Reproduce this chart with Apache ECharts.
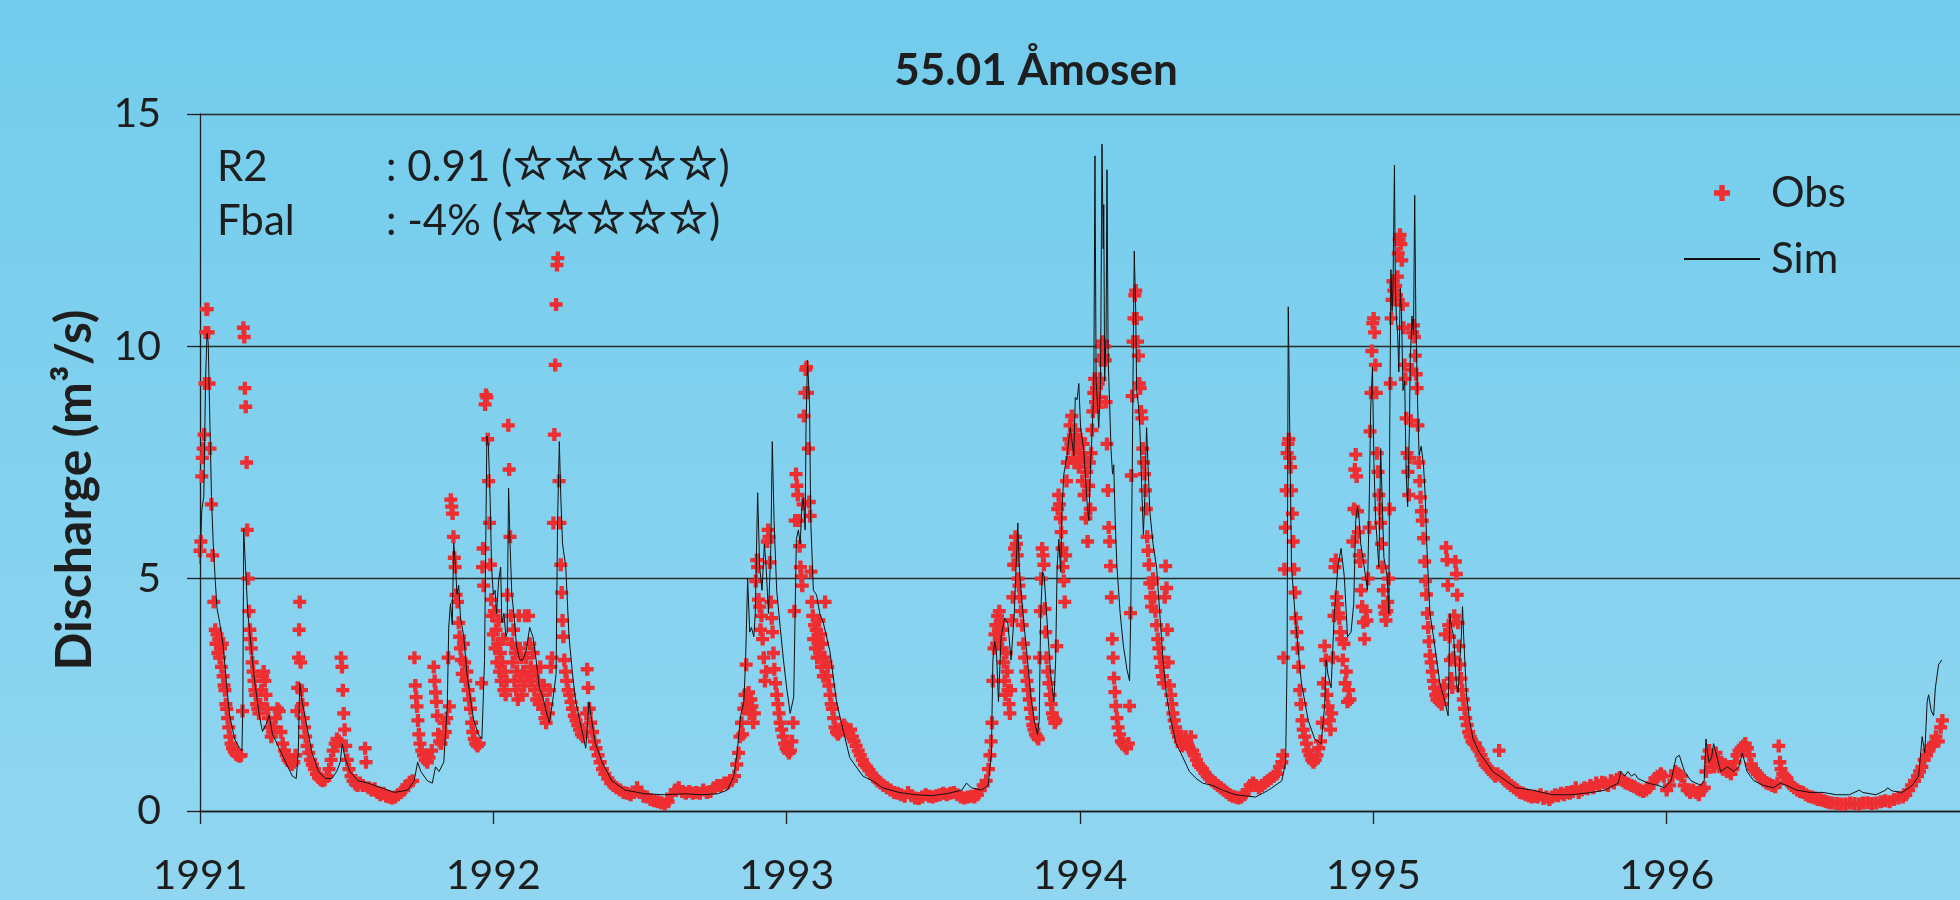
<!DOCTYPE html>
<html>
<head>
<meta charset="utf-8">
<title>55.01 Åmosen</title>
<script src="https://cdn.jsdelivr.net/npm/echarts@6/dist/echarts.min.js"></script>
<style>
  html, body { margin: 0; padding: 0; }
  #chart { width: 1960px; height: 900px; }
</style>
</head>
<body>
<div id="chart"></div>
<script>
const chartTitle = "55.01 Åmosen";
const yName = "Discharge (m³/s)";
const yearTicks = [1991, 1992, 1993, 1994, 1995, 1996];
const dischargeTicks = [0, 5, 10, 15];
const seriesNames = ["Obs", "Sim"];
const statLabels = ["R2", "Fbal"];
const statValues = [": 0.91 (", ": -4% ("];
const statStars = ["☆☆☆☆☆", "☆☆☆☆☆"];

const obs = [
  [1991.000,5.6],[1991.003,5.8],[1991.006,7.2],[1991.008,7.6],[1991.011,7.8],[1991.014,8.1],[1991.017,9.2],[1991.019,10.3],[1991.022,10.8],[1991.025,10.8],[1991.028,10.3],[1991.031,9.2],[1991.034,7.8],[1991.039,6.6],[1991.043,5.5],[1991.047,4.5],
  [1991.052,3.9],[1991.055,3.6],[1991.058,3.8],[1991.061,3.4],[1991.064,3.7],[1991.067,3.3],[1991.070,3.5],[1991.073,3.1],[1991.076,3.6],[1991.079,2.9],[1991.082,2.7],[1991.085,2.6],[1991.088,2.3],[1991.091,2.2],[1991.094,2.0],[1991.098,1.8],[1991.102,1.6],[1991.106,1.45],[1991.111,1.35],[1991.117,1.28],[1991.123,1.22],[1991.129,1.2],[1991.135,1.18],[1991.140,1.2],[1991.145,2.15],
  [1991.148,10.4],[1991.151,10.2],[1991.153,9.1],[1991.156,8.7],[1991.159,7.5],[1991.161,6.05],[1991.164,5.0],[1991.167,4.3],[1991.170,3.9],[1991.172,3.7],[1991.175,3.5],[1991.178,3.2],[1991.181,3.0],[1991.184,2.8],[1991.187,2.6],[1991.190,2.5],[1991.193,2.3],[1991.197,2.2],[1991.201,2.1],[1991.205,2.3],[1991.209,2.6],[1991.213,2.9],[1991.217,3.0],[1991.221,2.8],[1991.225,2.5],[1991.229,2.2],[1991.233,2.0],[1991.238,1.8],[1991.243,1.6],[1991.248,1.7],[1991.253,1.8],[1991.258,2.0],[1991.264,2.2],[1991.270,2.15],[1991.276,1.7],[1991.282,1.45],[1991.288,1.3],[1991.294,1.2],[1991.300,1.1],[1991.307,1.05],[1991.313,1.0],[1991.320,1.05],[1991.326,1.2],
  [1991.330,2.15],[1991.333,2.65],[1991.336,3.3],[1991.338,3.9],[1991.340,4.5],[1991.343,3.2],[1991.346,2.6],[1991.349,2.3],[1991.352,2.0],[1991.356,1.8],[1991.360,1.6],[1991.365,1.4],[1991.371,1.25],[1991.377,1.1],[1991.383,1.0],[1991.390,0.9],[1991.397,0.8],[1991.404,0.72],[1991.411,0.68],[1991.418,0.65],[1991.425,0.67],[1991.432,0.75],[1991.440,0.9],[1991.447,1.1],[1991.454,1.3],[1991.461,1.45],[1991.467,1.55],[1991.473,1.5],[1991.481,3.3],[1991.484,3.1],[1991.487,2.6],[1991.490,2.1],[1991.493,1.75],[1991.497,1.4],[1991.502,1.1],[1991.508,0.9],[1991.515,0.75],[1991.522,0.65],[1991.530,0.58],[1991.537,0.55],[1991.545,0.6],[1991.555,0.55],[1991.563,1.35],[1991.566,1.05],[1991.575,0.5],[1991.585,0.45],[1991.595,0.48],[1991.605,0.4],[1991.615,0.35],[1991.625,0.38],[1991.635,0.32],[1991.645,0.3],[1991.655,0.28],[1991.665,0.3],[1991.675,0.35],[1991.685,0.4],[1991.695,0.45],[1991.705,0.55],[1991.715,0.62],[1991.725,0.65],
  [1991.731,3.3],[1991.734,2.7],[1991.737,2.45],[1991.740,2.25],[1991.743,1.95],[1991.746,1.65],[1991.750,1.45],[1991.756,1.3],[1991.762,1.2],[1991.768,1.1],[1991.775,1.05],[1991.781,1.15],[1991.790,1.3],[1991.797,3.1],[1991.800,2.8],[1991.803,2.55],[1991.806,2.35],[1991.809,2.05],[1991.812,1.65],[1991.817,1.5],[1991.822,1.45],[1991.827,1.6],[1991.832,1.9],[1991.836,1.7],[1991.841,2.0],[1991.846,3.3],[1991.850,2.25],[1991.855,6.7],[1991.858,6.55],[1991.861,6.4],[1991.864,5.9],[1991.867,5.45],[1991.870,5.25],[1991.873,4.65],[1991.878,4.5],[1991.882,4.05],[1991.885,3.75],[1991.888,3.5],[1991.891,3.25],[1991.894,2.95],[1991.898,3.6],[1991.902,3.2],[1991.906,2.8],[1991.910,3.0],[1991.914,2.6],[1991.918,2.4],[1991.922,2.2],[1991.926,1.9],[1991.930,1.7],[1991.935,1.55],[1991.940,1.45],[1991.946,1.4],[1991.952,1.45],[1991.960,2.75],[1991.963,5.25],[1991.965,5.65],[1991.967,4.85],[1991.972,8.75],[1991.975,8.95],[1991.978,8.9],[1991.981,8.0],[1991.984,7.1],[1991.987,6.2],[1991.990,5.3],[1991.993,4.55],[1991.996,4.2],
  [1992.000,3.8],[1992.003,4.3],[1992.006,3.5],[1992.009,3.9],[1992.012,3.2],[1992.015,3.6],[1992.018,4.1],[1992.021,3.0],[1992.024,3.4],[1992.027,2.8],[1992.030,3.2],[1992.033,3.7],[1992.036,2.6],[1992.039,3.0],[1992.042,2.5],[1992.045,2.8],[1992.048,4.65],[1992.051,8.3],[1992.054,7.35],[1992.057,5.9],[1992.060,4.2],[1992.063,3.6],[1992.066,3.2],[1992.069,3.9],[1992.072,2.8],[1992.075,3.4],[1992.078,2.6],[1992.081,3.0],[1992.084,2.4],[1992.087,4.2],[1992.090,3.5],[1992.093,2.9],[1992.096,3.3],[1992.099,2.5],[1992.102,3.0],[1992.105,2.7],[1992.108,4.2],[1992.112,3.3],[1992.116,2.9],[1992.120,4.2],[1992.124,3.6],[1992.128,3.1],[1992.132,2.8],[1992.136,3.4],[1992.140,2.6],[1992.144,3.0],[1992.148,2.4],[1992.152,2.8],[1992.156,2.3],[1992.160,3.1],[1992.164,2.5],[1992.168,2.2],[1992.172,2.7],[1992.176,2.0],[1992.180,1.9],[1992.184,2.3],[1992.188,2.1],[1992.192,2.6],[1992.196,3.1],[1992.200,3.3],
  [1992.205,6.2],[1992.208,8.1],[1992.211,9.6],[1992.214,10.9],[1992.217,11.75],[1992.220,11.9],[1992.224,7.1],[1992.227,6.2],[1992.230,5.3],[1992.233,4.7],[1992.236,4.1],[1992.239,3.75],[1992.242,3.25],[1992.246,3.0],[1992.250,2.8],[1992.255,2.6],[1992.260,2.5],[1992.265,2.35],[1992.270,2.2],[1992.276,2.05],[1992.282,1.95],[1992.288,1.85],[1992.294,1.75],[1992.300,1.65],[1992.306,1.6],[1992.312,1.7],[1992.317,2.1],[1992.320,3.05],[1992.323,2.65],[1992.327,2.2],[1992.332,1.9],[1992.338,1.7],[1992.344,1.5],[1992.350,1.35],[1992.357,1.2],[1992.364,1.05],[1992.372,0.9],[1992.380,0.8],[1992.390,0.7],[1992.400,0.6],[1992.410,0.55],[1992.420,0.5],[1992.432,0.45],[1992.444,0.4],[1992.456,0.38],[1992.468,0.35],[1992.480,0.4],[1992.490,0.5],[1992.500,0.4],[1992.512,0.32],[1992.524,0.3],[1992.536,0.25],[1992.548,0.22],[1992.560,0.2],[1992.572,0.18],[1992.584,0.15],[1992.596,0.2],[1992.608,0.35],[1992.620,0.45],[1992.632,0.5],[1992.644,0.42],[1992.656,0.38],[1992.668,0.42],[1992.680,0.38],[1992.692,0.4],[1992.704,0.38],[1992.716,0.45],[1992.728,0.4],[1992.740,0.42],
  [1992.752,0.5],[1992.764,0.55],[1992.776,0.55],[1992.788,0.6],[1992.800,0.6],[1992.812,0.65],[1992.822,0.75],[1992.830,1.0],[1992.836,1.25],[1992.841,1.6],[1992.846,1.9],[1992.850,1.65],[1992.854,2.2],[1992.858,2.5],[1992.862,3.15],[1992.866,2.3],[1992.870,2.55],[1992.874,2.1],[1992.878,2.4],[1992.882,2.25],[1992.886,1.9],[1992.890,2.1],[1992.895,4.95],[1992.898,5.4],[1992.901,5.25],[1992.904,4.55],[1992.908,4.4],[1992.911,3.9],[1992.914,4.2],[1992.918,3.7],[1992.922,3.3],[1992.926,2.8],[1992.930,3.0],[1992.934,5.8],[1992.937,6.05],[1992.940,5.9],[1992.943,5.35],[1992.946,4.5],[1992.949,4.15],[1992.952,3.85],[1992.955,3.4],[1992.958,3.05],[1992.962,2.75],[1992.966,2.5],[1992.970,2.3],[1992.974,2.1],[1992.978,1.9],[1992.983,1.75],[1992.988,1.6],[1992.993,1.45],[1992.998,1.35],
  [1993.003,1.3],[1993.008,1.25],[1993.013,1.3],[1993.018,1.5],[1993.022,1.9],[1993.026,4.3],[1993.029,6.25],[1993.032,7.25],[1993.035,7.0],[1993.038,6.8],[1993.041,6.25],[1993.044,5.7],[1993.047,5.25],[1993.050,5.05],[1993.053,4.85],[1993.056,6.6],[1993.059,8.5],[1993.062,9.0],[1993.065,9.5],[1993.068,9.55],[1993.071,9.0],[1993.074,7.8],[1993.077,6.65],[1993.080,6.35],[1993.083,5.15],[1993.086,4.5],[1993.089,4.2],[1993.092,3.7],[1993.095,4.0],[1993.098,3.5],[1993.101,3.9],[1993.104,3.3],[1993.107,3.7],[1993.110,4.1],[1993.113,3.4],[1993.116,3.8],[1993.119,3.1],[1993.122,3.6],[1993.125,2.9],[1993.128,3.3],[1993.131,4.5],[1993.134,3.2],[1993.137,2.9],[1993.140,3.1],[1993.144,2.7],[1993.148,2.5],[1993.152,2.3],[1993.156,2.2],[1993.160,2.0],[1993.165,1.8],[1993.170,1.7],[1993.175,1.65],[1993.180,1.7],[1993.185,1.75],[1993.190,1.8],[1993.195,1.85],[1993.200,1.8],[1993.206,1.7],[1993.212,1.65],[1993.218,1.75],[1993.224,1.6],[1993.230,1.5],[1993.237,1.4],[1993.244,1.3],[1993.251,1.2],[1993.258,1.1],[1993.265,1.0],[1993.273,0.95],[1993.281,0.88],[1993.290,0.8],[1993.300,0.72],[1993.310,0.65],[1993.320,0.6],[1993.330,0.55],[1993.342,0.5],[1993.354,0.45],[1993.366,0.4],[1993.378,0.38],[1993.390,0.35],[1993.402,0.32],[1993.414,0.4],[1993.426,0.33],[1993.438,0.28],[1993.450,0.27],[1993.462,0.3],[1993.474,0.35],[1993.486,0.32],[1993.498,0.3],[1993.510,0.33],[1993.522,0.35],[1993.534,0.38],[1993.546,0.35],[1993.558,0.38],[1993.570,0.4],[1993.582,0.35],[1993.594,0.3],[1993.606,0.28],[1993.618,0.3],[1993.630,0.32],[1993.640,0.3],[1993.650,0.35],[1993.660,0.45],[1993.670,0.55],[1993.680,0.65],[1993.688,0.9],[1993.693,1.2],[1993.697,1.5],[1993.700,1.9],[1993.703,2.8],
  [1993.707,3.5],[1993.710,3.8],[1993.713,4.0],[1993.716,3.6],[1993.719,4.2],[1993.722,3.9],[1993.725,4.3],[1993.728,3.7],[1993.731,4.1],[1993.734,3.5],[1993.737,3.9],[1993.740,3.2],[1993.743,2.8],[1993.746,2.5],[1993.749,3.4],[1993.752,3.0],[1993.755,2.6],[1993.758,2.3],[1993.761,2.1],[1993.764,2.6],[1993.768,4.1],[1993.771,4.6],[1993.774,5.3],[1993.777,5.65],[1993.780,5.9],[1993.783,5.75],[1993.786,5.5],[1993.789,5.0],[1993.792,4.85],[1993.795,4.6],[1993.799,4.3],[1993.803,4.0],[1993.807,3.6],[1993.811,3.3],[1993.815,3.0],[1993.819,2.8],[1993.823,2.6],[1993.827,2.4],[1993.831,2.2],[1993.835,2.0],[1993.839,1.85],[1993.843,1.75],[1993.848,1.65],[1993.853,1.6],[1993.858,1.55],[1993.862,3.3],[1993.865,4.3],[1993.868,5.0],[1993.871,5.65],[1993.874,5.5],[1993.877,5.3],[1993.880,4.35],[1993.883,3.85],[1993.886,3.3],[1993.890,3.0],[1993.894,2.75],[1993.898,2.5],[1993.902,2.3],[1993.906,2.1],[1993.910,2.0],[1993.914,1.9],[1993.918,1.95],[1993.921,3.55],[1993.924,6.5],[1993.927,6.8],[1993.930,6.6],[1993.933,6.3],[1993.936,6.0],[1993.939,5.65],[1993.942,5.25],[1993.945,4.95],[1993.948,4.5],[1993.951,5.5],[1993.954,7.1],[1993.957,7.5],[1993.960,7.8],[1993.963,8.0],[1993.966,8.3],[1993.969,7.9],[1993.972,8.5],[1993.975,8.0],[1993.978,7.6],[1993.981,7.8],[1993.984,8.2],[1993.987,7.5],[1993.990,8.0],[1993.993,7.9],[1993.996,7.4],
  [1993.999,7.7],[1994.002,8.0],[1994.005,7.6],[1994.008,7.1],[1994.011,7.9],[1994.014,6.8],[1994.017,7.6],[1994.020,6.3],[1994.023,7.3],[1994.026,5.8],[1994.029,7.0],[1994.032,7.5],[1994.035,6.5],[1994.038,7.7],[1994.041,8.2],[1994.044,8.6],[1994.047,9.0],[1994.050,9.3],[1994.053,8.8],[1994.056,9.1],[1994.059,8.7],[1994.062,9.2],[1994.065,8.9],[1994.068,9.3],[1994.071,9.7],[1994.074,10.0],[1994.077,10.1],[1994.080,9.8],[1994.083,10.0],[1994.086,9.7],[1994.089,8.8],[1994.092,7.9],[1994.095,6.9],[1994.098,6.1],[1994.101,5.8],[1994.104,5.27],[1994.107,4.6],[1994.110,3.7],[1994.113,3.3],[1994.116,2.86],[1994.119,2.56],[1994.122,2.26],[1994.126,2.0],[1994.130,1.8],[1994.135,1.65],[1994.141,1.5],[1994.147,1.45],[1994.153,1.4],[1994.159,1.35],[1994.165,1.45],[1994.169,2.26],[1994.172,4.26],[1994.175,7.22],[1994.178,8.93],[1994.181,10.1],[1994.184,10.6],[1994.187,11.1],[1994.190,11.2],[1994.193,10.6],[1994.196,10.1],[1994.199,9.8],[1994.202,9.2],[1994.205,9.1],[1994.208,8.6],[1994.211,8.45],[1994.214,7.8],[1994.217,7.5],[1994.220,7.25],[1994.223,6.9],[1994.226,6.5],[1994.229,5.9],[1994.232,5.6],[1994.235,5.3],[1994.238,4.9],[1994.241,4.6],[1994.244,4.4],[1994.247,4.9],
  [1994.249,5.0],[1994.253,4.6],[1994.257,4.3],[1994.261,4.0],[1994.265,3.7],[1994.269,3.5],[1994.273,3.3],[1994.277,3.1],[1994.281,2.9],[1994.285,2.75],[1994.289,4.6],[1994.292,5.27],[1994.295,4.8],[1994.298,3.9],[1994.301,3.2],[1994.305,2.7],[1994.309,2.5],[1994.313,2.3],[1994.317,2.1],[1994.321,1.95],[1994.326,1.8],[1994.331,1.7],[1994.336,1.6],[1994.342,1.5],[1994.348,1.4],[1994.354,1.5],[1994.360,1.6],[1994.366,1.45],[1994.372,1.35],[1994.378,1.6],[1994.384,1.3],[1994.390,1.2],[1994.397,1.1],[1994.404,1.0],[1994.411,0.95],[1994.418,0.9],[1994.426,0.82],[1994.434,0.75],[1994.442,0.7],[1994.450,0.65],[1994.460,0.6],[1994.470,0.55],[1994.480,0.5],[1994.490,0.45],[1994.500,0.4],[1994.510,0.35],[1994.520,0.32],[1994.530,0.3],[1994.540,0.28],[1994.550,0.3],[1994.560,0.35],[1994.570,0.45],[1994.580,0.55],[1994.590,0.6],[1994.600,0.55],[1994.610,0.5],[1994.620,0.55],[1994.630,0.6],[1994.640,0.65],[1994.650,0.7],[1994.660,0.75],[1994.670,0.8],[1994.680,0.95],
  [1994.688,1.05],[1994.691,1.2],[1994.694,3.3],[1994.697,5.2],[1994.700,6.1],[1994.703,6.9],[1994.706,7.7],[1994.709,7.9],[1994.712,8.0],[1994.715,7.6],[1994.718,7.4],[1994.721,6.9],[1994.724,6.4],[1994.727,5.8],[1994.730,5.2],[1994.733,4.7],[1994.736,4.15],[1994.739,3.85],[1994.742,3.5],[1994.745,3.1],[1994.749,2.6],[1994.753,2.3],[1994.757,1.95],[1994.761,1.75],[1994.766,1.6],[1994.772,1.45],[1994.778,1.3],[1994.784,1.2],[1994.790,1.1],[1994.796,1.05],[1994.802,1.1],[1994.808,1.2],[1994.814,1.35],[1994.820,1.5],[1994.826,1.9],[1994.830,2.75],[1994.834,3.55],[1994.838,3.25],[1994.842,2.5],[1994.846,2.25],[1994.850,1.95],[1994.854,1.75],[1994.858,2.1],[1994.862,3.3],[1994.866,4.2],[1994.869,5.25],[1994.872,5.4],[1994.875,4.6],[1994.878,4.45],[1994.881,4.25],[1994.884,4.15],[1994.888,3.85],[1994.892,3.7],[1994.896,3.25],[1994.900,3.6],[1994.904,2.75],[1994.908,3.0],[1994.912,2.35],[1994.916,2.6],[1994.920,2.4],[1994.930,5.8],[1994.934,6.5],[1994.937,7.35],[1994.940,7.67],[1994.943,7.2],[1994.946,6.45],[1994.949,6.0],[1994.952,5.5],[1994.955,5.37],[1994.958,4.75],[1994.962,4.4],[1994.966,4.06],[1994.970,3.7],[1994.974,4.3],[1994.978,4.1],[1994.982,5.0],[1994.986,6.1],[1994.989,8.17],[1994.992,9.0],[1994.995,9.9],[1994.998,10.5],
  [1995.001,10.6],[1995.004,10.3],[1995.007,9.6],[1995.010,9.0],[1995.013,7.7],[1995.016,7.3],[1995.019,6.8],[1995.022,6.5],[1995.025,6.2],[1995.028,5.75],[1995.031,5.25],[1995.034,4.75],[1995.037,4.4],[1995.040,4.25],[1995.043,4.1],[1995.046,4.3],[1995.049,4.5],[1995.052,5.0],[1995.055,6.5],[1995.058,9.2],[1995.061,10.6],[1995.064,11.0],[1995.067,11.4],[1995.070,11.2],[1995.073,11.0],[1995.076,11.3],[1995.079,11.1],[1995.082,11.5],[1995.085,12.0],[1995.088,12.3],[1995.091,12.4],[1995.094,12.2],[1995.097,11.85],[1995.100,10.9],[1995.103,10.4],[1995.106,9.6],[1995.109,9.3],[1995.112,8.45],[1995.115,7.7],[1995.118,7.3],[1995.121,6.8],[1995.124,7.6],[1995.128,8.4],[1995.131,9.5],[1995.134,10.3],[1995.137,10.45],[1995.140,10.2],[1995.143,9.8],[1995.146,9.4],[1995.149,9.1],[1995.152,8.3],[1995.155,7.5],[1995.158,7.1],[1995.161,6.75],[1995.164,6.45],[1995.167,6.25],[1995.171,5.87],[1995.175,5.37],[1995.178,4.95],[1995.181,4.66],[1995.184,4.25],[1995.187,3.95],[1995.190,3.65],[1995.193,3.35],[1995.197,3.2],[1995.201,3.0],[1995.205,2.8],[1995.209,2.65],[1995.213,2.5],[1995.217,2.4],[1995.221,2.55],[1995.225,2.35],[1995.229,2.45],[1995.233,2.3],[1995.237,2.5],
  [1995.241,2.7],[1995.245,3.8],[1995.248,5.67],[1995.251,5.4],[1995.254,4.86],[1995.257,4.0],[1995.260,3.75],[1995.263,3.25],[1995.266,2.85],[1995.269,2.66],[1995.273,3.3],[1995.276,4.2],[1995.280,5.37],[1995.283,5.1],[1995.286,4.65],[1995.289,4.05],[1995.292,3.55],[1995.295,3.15],[1995.299,2.85],[1995.303,2.6],[1995.307,2.4],[1995.311,2.2],[1995.315,2.0],[1995.320,1.85],[1995.325,1.7],[1995.330,1.6],[1995.336,1.5],[1995.342,1.45],[1995.348,1.45],[1995.354,1.35],[1995.360,1.3],[1995.367,1.2],[1995.374,1.1],[1995.381,1.0],[1995.388,0.95],[1995.395,0.9],[1995.402,0.85],[1995.409,0.8],[1995.416,0.75],[1995.423,0.8],[1995.429,1.3],[1995.436,0.75],[1995.443,0.7],[1995.450,0.65],[1995.460,0.6],[1995.470,0.55],[1995.480,0.5],[1995.490,0.45],[1995.500,0.4],[1995.510,0.38],[1995.520,0.35],[1995.530,0.33],[1995.540,0.3],[1995.550,0.32],[1995.560,0.3],[1995.570,0.35],[1995.580,0.27],[1995.590,0.3],[1995.600,0.25],[1995.610,0.3],[1995.620,0.35],[1995.630,0.33],[1995.640,0.38],[1995.650,0.35],[1995.660,0.4],[1995.670,0.38],[1995.680,0.42],[1995.690,0.5],[1995.700,0.4],[1995.710,0.45],[1995.720,0.5],[1995.730,0.48],[1995.740,0.55],[1995.750,0.5],[1995.760,0.6],[1995.770,0.55],[1995.780,0.62],[1995.790,0.6],[1995.800,0.55],[1995.810,0.65],[1995.820,0.6],[1995.830,0.68],[1995.840,0.72],[1995.850,0.65],[1995.860,0.6],[1995.870,0.58],[1995.880,0.55],[1995.890,0.52],[1995.900,0.48],[1995.910,0.45],[1995.920,0.42],[1995.930,0.45],[1995.940,0.5],[1995.950,0.6],[1995.960,0.7],[1995.970,0.75],[1995.980,0.8],[1995.990,0.75],
  [1996.000,0.45],[1996.010,0.55],[1996.020,0.75],[1996.030,0.85],[1996.040,0.8],[1996.050,0.75],[1996.060,0.55],[1996.070,0.45],[1996.080,0.4],[1996.090,0.45],[1996.100,0.4],[1996.110,0.35],[1996.120,0.45],[1996.128,0.5],[1996.134,0.85],[1996.139,1.15],[1996.145,1.3],[1996.150,1.05],[1996.156,1.2],[1996.162,0.95],[1996.168,1.25],[1996.174,1.1],[1996.180,0.95],[1996.186,1.05],[1996.192,0.9],[1996.198,1.0],[1996.205,0.85],[1996.212,0.95],[1996.219,0.8],[1996.226,0.9],[1996.233,1.05],[1996.240,1.2],[1996.247,1.3],[1996.254,1.35],[1996.261,1.4],[1996.268,1.45],[1996.275,1.35],[1996.282,1.2],[1996.289,1.0],[1996.296,0.9],[1996.303,0.85],[1996.310,0.8],[1996.317,0.75],[1996.324,0.7],[1996.331,0.65],[1996.340,0.6],[1996.350,0.58],[1996.360,0.55],[1996.370,0.52],[1996.378,0.6],[1996.382,1.4],[1996.386,1.05],[1996.390,0.9],[1996.396,0.8],[1996.403,0.75],[1996.410,0.7],[1996.418,0.6],[1996.426,0.55],[1996.435,0.5],[1996.445,0.45],[1996.455,0.42],[1996.465,0.4],[1996.475,0.35],[1996.485,0.32],[1996.495,0.3],[1996.505,0.28],[1996.515,0.25],[1996.525,0.24],[1996.535,0.22],[1996.545,0.2],[1996.555,0.18],[1996.565,0.17],[1996.580,0.16],[1996.595,0.15],[1996.610,0.15],[1996.625,0.17],[1996.640,0.16],[1996.655,0.15],[1996.670,0.17],[1996.685,0.18],[1996.700,0.16],[1996.715,0.17],[1996.730,0.2],[1996.745,0.22],[1996.760,0.2],[1996.775,0.25],[1996.790,0.28],[1996.805,0.3],[1996.815,0.35],[1996.825,0.45],[1996.835,0.55],[1996.845,0.65],[1996.855,0.75],[1996.862,0.85],[1996.870,0.95],[1996.878,1.1],[1996.886,1.2],[1996.894,1.3],[1996.902,1.4],[1996.910,1.45],[1996.918,1.6],[1996.926,1.5],[1996.934,1.8],[1996.940,1.95]
];

// simulated discharge, [decimal year, m3/s]
const sim = [
  [1991.000,5.32],[1991.006,6.47],[1991.013,6.77],[1991.019,9.28],[1991.024,10.28],[1991.028,10.08],[1991.034,8.27],[1991.039,6.77],[1991.045,5.77],[1991.052,4.96],[1991.058,4.36],[1991.067,4.06],[1991.079,3.56],[1991.090,2.76],[1991.101,2.06],[1991.118,1.55],[1991.135,1.35],[1991.143,1.30],[1991.146,2.26],[1991.149,6.07],[1991.155,5.27],[1991.163,4.26],[1991.174,3.56],[1991.185,2.86],[1991.202,2.06],[1991.213,1.71],[1991.225,1.86],[1991.236,2.06],[1991.247,1.65],[1991.270,1.35],[1991.292,1.05],[1991.315,0.75],[1991.328,0.70],[1991.335,1.25],[1991.340,2.76],[1991.348,2.36],[1991.360,1.96],[1991.382,1.25],[1991.404,0.85],[1991.427,0.70],[1991.449,0.70],[1991.466,0.85],[1991.478,1.05],[1991.485,1.45],[1991.494,1.15],[1991.511,0.85],[1991.539,0.65],[1991.573,0.60],[1991.618,0.50],[1991.663,0.40],[1991.708,0.45],[1991.730,0.65],[1991.742,1.05],[1991.753,0.85],[1991.775,0.65],[1991.792,0.60],[1991.803,0.95],[1991.815,0.85],[1991.831,1.05],[1991.843,2.26],[1991.848,3.96],[1991.854,4.46],[1991.860,4.01],[1991.865,5.77],[1991.871,5.27],[1991.876,4.66],[1991.882,4.86],[1991.888,4.16],[1991.899,3.76],[1991.910,2.96],[1991.921,2.46],[1991.933,1.96],[1991.949,1.65],[1991.961,1.55],[1991.970,3.26],[1991.978,8.07],[1991.983,7.87],[1991.989,6.75],[1991.994,5.25],
  [1992.000,4.65],[1992.006,4.75],[1992.011,4.25],[1992.018,4.95],[1992.025,5.25],[1992.029,4.05],[1992.036,4.25],[1992.043,3.75],[1992.047,3.85],[1992.052,6.95],[1992.057,5.75],[1992.063,4.65],[1992.070,4.25],[1992.079,3.55],[1992.090,3.25],[1992.101,3.25],[1992.112,3.45],[1992.124,3.95],[1992.135,3.75],[1992.146,3.25],[1992.157,2.65],[1992.169,2.45],[1992.180,2.15],[1992.191,1.90],[1992.202,2.35],[1992.214,2.95],[1992.219,6.25],[1992.225,7.95],[1992.230,6.75],[1992.236,5.75],[1992.247,5.25],[1992.258,3.75],[1992.270,2.95],[1992.281,2.35],[1992.298,1.85],[1992.315,1.35],[1992.320,1.75],[1992.326,2.35],[1992.333,2.05],[1992.348,1.45],[1992.371,1.05],[1992.404,0.65],[1992.449,0.45],[1992.517,0.37],[1992.584,0.35],[1992.652,0.37],[1992.708,0.35],[1992.764,0.37],[1992.798,0.45],[1992.820,0.75],[1992.831,1.25],[1992.843,2.05],[1992.854,2.35],[1992.860,3.25],[1992.867,5.0],[1992.874,3.85],[1992.880,3.95],[1992.888,3.75],[1992.893,4.25],[1992.901,6.85],[1992.908,5.25],[1992.916,4.75],[1992.924,5.75],[1992.930,5.25],[1992.938,4.25],[1992.946,5.65],[1992.951,7.95],[1992.957,6.25],[1992.966,4.75],[1992.978,3.95],[1992.989,3.25],
  [1993.000,2.65],[1993.012,2.10],[1993.024,2.45],[1993.033,5.85],[1993.040,6.05],[1993.046,5.75],[1993.052,6.55],[1993.057,6.75],[1993.063,6.05],[1993.066,8.25],[1993.071,9.70],[1993.078,8.75],[1993.082,6.25],[1993.091,4.75],[1993.102,4.65],[1993.113,4.25],[1993.125,4.05],[1993.147,3.45],[1993.170,2.35],[1993.192,1.75],[1993.215,1.15],[1993.237,0.95],[1993.260,0.75],[1993.293,0.65],[1993.327,0.50],[1993.383,0.40],[1993.439,0.35],[1993.496,0.33],[1993.552,0.38],[1993.597,0.45],[1993.613,0.60],[1993.630,0.50],[1993.664,0.45],[1993.687,0.55],[1993.698,1.25],[1993.703,3.25],[1993.709,3.65],[1993.715,3.45],[1993.722,2.35],[1993.731,3.75],[1993.743,4.15],[1993.754,4.05],[1993.765,3.25],[1993.771,3.25],[1993.776,4.25],[1993.782,5.25],[1993.788,6.20],[1993.793,5.25],[1993.799,4.75],[1993.810,3.95],[1993.821,3.25],[1993.833,2.45],[1993.844,1.95],[1993.855,1.65],[1993.861,1.95],[1993.866,4.25],[1993.872,5.15],[1993.878,5.05],[1993.889,3.95],[1993.900,2.95],[1993.911,2.35],[1993.917,3.25],[1993.922,5.25],[1993.928,5.85],[1993.934,5.15],[1993.939,6.55],[1993.945,7.25],[1993.956,7.65],[1993.967,8.25],[1993.979,7.65],[1993.984,8.90],[1993.990,8.85],[1993.996,9.20],
  [1994.002,8.25],[1994.013,7.75],[1994.025,6.55],[1994.030,6.25],[1994.036,7.45],[1994.042,8.25],[1994.047,9.05],[1994.051,14.10],[1994.055,9.25],[1994.064,8.25],[1994.070,9.25],[1994.075,14.35],[1994.079,12.10],[1994.081,13.05],[1994.084,9.25],[1994.089,10.25],[1994.092,13.80],[1994.096,9.75],[1994.101,8.75],[1994.106,7.75],[1994.111,7.25],[1994.115,7.45],[1994.120,6.25],[1994.126,5.25],[1994.137,4.25],[1994.148,3.55],[1994.160,3.05],[1994.169,2.80],[1994.173,4.25],[1994.178,7.25],[1994.182,10.25],[1994.185,12.05],[1994.190,10.75],[1994.193,9.05],[1994.199,8.75],[1994.204,8.25],[1994.210,7.05],[1994.216,5.95],[1994.221,6.75],[1994.227,8.25],[1994.233,7.25],[1994.238,6.45],[1994.249,5.75],[1994.261,5.25],[1994.272,4.25],[1994.283,3.25],[1994.294,2.55],[1994.306,2.05],[1994.328,1.45],[1994.351,1.15],[1994.373,0.85],[1994.396,0.70],[1994.418,0.60],[1994.452,0.55],[1994.485,0.45],[1994.530,0.35],[1994.598,0.30],[1994.643,0.45],[1994.688,0.65],[1994.701,1.05],[1994.706,3.25],[1994.710,10.85],[1994.715,8.25],[1994.721,5.25],[1994.733,4.25],[1994.744,3.45],[1994.755,2.75],[1994.778,1.95],[1994.800,1.55],[1994.822,1.45],[1994.834,2.25],[1994.839,3.25],[1994.845,2.95],[1994.856,2.65],[1994.867,4.25],[1994.879,5.25],[1994.890,5.65],[1994.901,5.05],[1994.912,3.75],[1994.924,3.85],[1994.933,4.45],[1994.940,6.25],[1994.946,6.55],[1994.952,6.25],[1994.957,5.75],[1994.969,5.25],[1994.980,4.75],[1994.985,6.25],[1994.991,8.65],[1994.997,9.55],
  [1995.002,7.5],[1995.008,6.25],[1995.013,6.25],[1995.019,5.25],[1995.025,7.80],[1995.030,6.75],[1995.036,5.45],[1995.042,5.25],[1995.047,5.05],[1995.053,4.25],[1995.056,8.25],[1995.060,11.65],[1995.064,10.75],[1995.067,11.25],[1995.072,13.90],[1995.075,11.25],[1995.079,10.55],[1995.083,10.25],[1995.087,9.45],[1995.092,11.25],[1995.096,10.75],[1995.101,9.05],[1995.107,9.25],[1995.112,7.25],[1995.117,6.55],[1995.123,8.25],[1995.126,9.75],[1995.132,10.65],[1995.137,10.25],[1995.141,13.25],[1995.145,10.55],[1995.151,8.75],[1995.156,7.65],[1995.163,7.85],[1995.171,7.45],[1995.177,6.75],[1995.182,5.75],[1995.193,4.25],[1995.205,3.75],[1995.216,3.25],[1995.227,2.75],[1995.244,2.35],[1995.255,2.05],[1995.261,4.25],[1995.267,3.95],[1995.274,3.75],[1995.283,2.75],[1995.289,2.55],[1995.295,3.25],[1995.300,3.75],[1995.304,4.40],[1995.308,3.75],[1995.317,2.55],[1995.328,1.95],[1995.340,1.55],[1995.362,1.25],[1995.385,1.05],[1995.407,0.85],[1995.430,0.75],[1995.452,0.65],[1995.486,0.50],[1995.542,0.45],[1995.610,0.35],[1995.677,0.35],[1995.745,0.40],[1995.790,0.45],[1995.835,0.60],[1995.844,0.85],[1995.857,0.75],[1995.868,0.85],[1995.880,0.75],[1995.891,0.80],[1995.902,0.70],[1995.936,0.60],[1995.970,0.55],[1995.992,0.50],
  [1996.015,0.65],[1996.032,1.15],[1996.043,1.20],[1996.061,0.85],[1996.083,0.65],[1996.117,0.55],[1996.128,0.65],[1996.134,1.55],[1996.139,1.25],[1996.145,1.05],[1996.153,1.15],[1996.160,1.45],[1996.168,1.25],[1996.184,0.85],[1996.207,0.95],[1996.229,0.85],[1996.246,0.95],[1996.258,1.25],[1996.274,0.85],[1996.297,0.65],[1996.331,0.55],[1996.364,0.50],[1996.387,0.60],[1996.409,0.55],[1996.443,0.45],[1996.488,0.40],[1996.533,0.40],[1996.578,0.35],[1996.623,0.35],[1996.657,0.45],[1996.668,0.40],[1996.713,0.35],[1996.747,0.45],[1996.753,0.50],[1996.769,0.43],[1996.803,0.40],[1996.837,0.55],[1996.859,0.75],[1996.871,1.60],[1996.880,1.25],[1996.888,2.35],[1996.893,2.50],[1996.902,2.15],[1996.910,2.05],[1996.916,2.65],[1996.927,3.15],[1996.938,3.25]
];

const plusSymbol = "path://M4,0H8V4H12V8H8V12H4V8H0V4H4Z";
const ink = "#1e1e1e";
const font = "Lato";

const chart = echarts.init(document.getElementById("chart"));

// R2 / Fbal block in the top left corner of the plot
const statText = statLabels.map((label, i) => [
  {
    type: "text",
    x: 217,
    y: 167 + i * 54,
    style: { text: label, fontFamily: font, fontSize: 42, fill: ink, verticalAlign: "middle" },
  },
  {
    type: "text",
    x: 386,
    y: 167 + i * 54,
    style: {
      text: statValues[i] + "{s|" + statStars[i] + "})",
      fontFamily: font,
      fontSize: 42,
      fill: ink,
      verticalAlign: "middle",
      rich: {
        s: { fontFamily: "DejaVu Sans", fontSize: 46, fill: ink, stroke: ink, lineWidth: 1.6 },
      },
    },
  },
]).flat();

const option = {
  animation: false,
  backgroundColor: new echarts.graphic.LinearGradient(0, 0, 0, 1, [
    { offset: 0, color: "#72ccec" },
    { offset: 1, color: "#91d6f1" },
  ]),
  grid: { left: 200, top: 114, bottom: 89, right: -18 },
  legend: {
    orient: "vertical",
    left: 1678,
    top: 162,
    itemWidth: 76,
    itemHeight: 16,
    itemGap: 14,
    data: [
      { name: seriesNames[0] },
      { name: seriesNames[1], itemStyle: { opacity: 0 } },
    ],
    textStyle: { fontFamily: font, fontSize: 42, color: ink, lineHeight: 52, padding: [0, 0, 0, 6] },
  },
  xAxis: {
    type: "value",
    min: yearTicks[0],
    max: yearTicks[yearTicks.length - 1] + 1,
    interval: 1,
    axisLine: { lineStyle: { color: ink, width: 1.3 } },
    axisTick: { length: 13, lineStyle: { color: ink, width: 1.3 } },
    axisLabel: {
      fontFamily: font,
      fontSize: 41,
      color: ink,
      margin: 44,
      showMaxLabel: false,
      formatter: (v) => String(v),
    },
    splitLine: { show: false },
  },
  yAxis: {
    type: "value",
    min: dischargeTicks[0],
    max: dischargeTicks[dischargeTicks.length - 1],
    interval: 5,
    axisLine: { show: true, lineStyle: { color: ink, width: 1.3 } },
    axisTick: { show: true, length: 13, lineStyle: { color: ink, width: 1.3 } },
    axisLabel: { fontFamily: font, fontSize: 41, color: ink, margin: 39 },
    splitLine: { lineStyle: { color: "#2a2a2a", width: 1.3 } },
  },
  graphic: [
    {
      type: "text",
      x: 1036,
      y: 71,
      style: {
        text: chartTitle,
        fontFamily: font,
        fontWeight: "bold",
        fontSize: 44,
        fill: ink,
        align: "center",
        verticalAlign: "middle",
      },
    },
    {
      type: "text",
      x: 75,
      y: 490,
      rotation: Math.PI / 2,
      style: {
        text: yName,
        fontFamily: font,
        fontWeight: "bold",
        fontSize: 50,
        fill: ink,
        align: "center",
        verticalAlign: "middle",
      },
    },
    ...statText,
  ],
  series: [
    {
      name: seriesNames[0],
      type: "scatter",
      symbol: plusSymbol,
      symbolSize: 13,
      itemStyle: { color: "#ee2e31", opacity: 1 },
      data: obs,
    },
    {
      name: seriesNames[1],
      type: "line",
      symbol: "none",
      showSymbol: false,
      lineStyle: { color: "#111", width: 1 },
      itemStyle: { color: "#111" },
      z: 3,
      data: sim,
    },
  ],
};

chart.setOption(option);
</script>
</body>
</html>
